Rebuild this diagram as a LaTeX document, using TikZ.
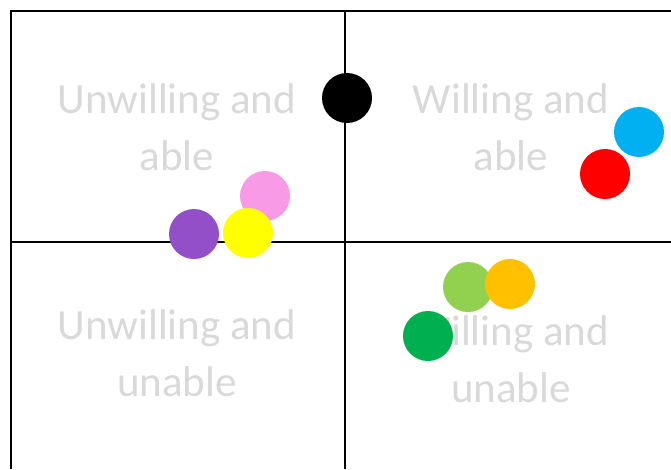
\documentclass[tikz,border=0pt]{standalone}
\usepackage{fontspec}
\setmainfont{Carlito}
\begin{document}
\begin{tikzpicture}[x=1pt,y=-1pt,
  quad/.style={text=black!15, align=center, font=\fontsize{43}{57}\selectfont, inner sep=0pt},
  frame/.style={line width=2pt, black},
  dot/.style={circle, minimum size=50pt, inner sep=0pt, fill=#1}]
\definecolor{cpink}{HTML}{F99AE6}
\definecolor{cpurple}{HTML}{924FC7}
\definecolor{cyellow}{HTML}{FFFF00}
\definecolor{clgreen}{HTML}{92D050}
\definecolor{corange}{HTML}{FFC000}
\definecolor{cgreen}{HTML}{00B050}
\definecolor{cblue}{HTML}{00B0F0}
\definecolor{cred}{HTML}{FF0000}
\useasboundingbox (0,0) rectangle (671,469);
\node[quad] (ua) at (177,127) {Unwilling and\\able};
\node[quad] (wa) at (511,127) {Willing and\\able};
\node[quad] (uu) at (177,353) {Unwilling and\\unable};
\node[quad] (wu) at (511,359) {Willing and\\unable};
\coordinate (tl) at (11,11);
\coordinate (tr) at (671,11);
\coordinate (bl) at (11,469);
\coordinate (vt) at (345,11);
\coordinate (vb) at (345,469);
\coordinate (hl) at (11,242);
\coordinate (hr) at (671,242);
\draw[frame] (bl) -- (tl) -- (tr);
\draw[frame] (vt) -- (vb);
\draw[frame] (hl) -- (hr);
\node[dot=black] (k) at (347,98) {};
\node[dot=cpink] (p) at (265,196) {};
\node[dot=cpurple] (pu) at (194,234) {};
\node[dot=cyellow] (y) at (248,233) {};
\node[dot=clgreen] (lg) at (468,287) {};
\node[dot=corange] (o) at (510,284) {};
\node[dot=cgreen] (g) at (428,336) {};
\node[dot=cblue] (b) at (639,132) {};
\node[dot=cred] (r) at (605,174) {};
\end{tikzpicture}
\end{document}
